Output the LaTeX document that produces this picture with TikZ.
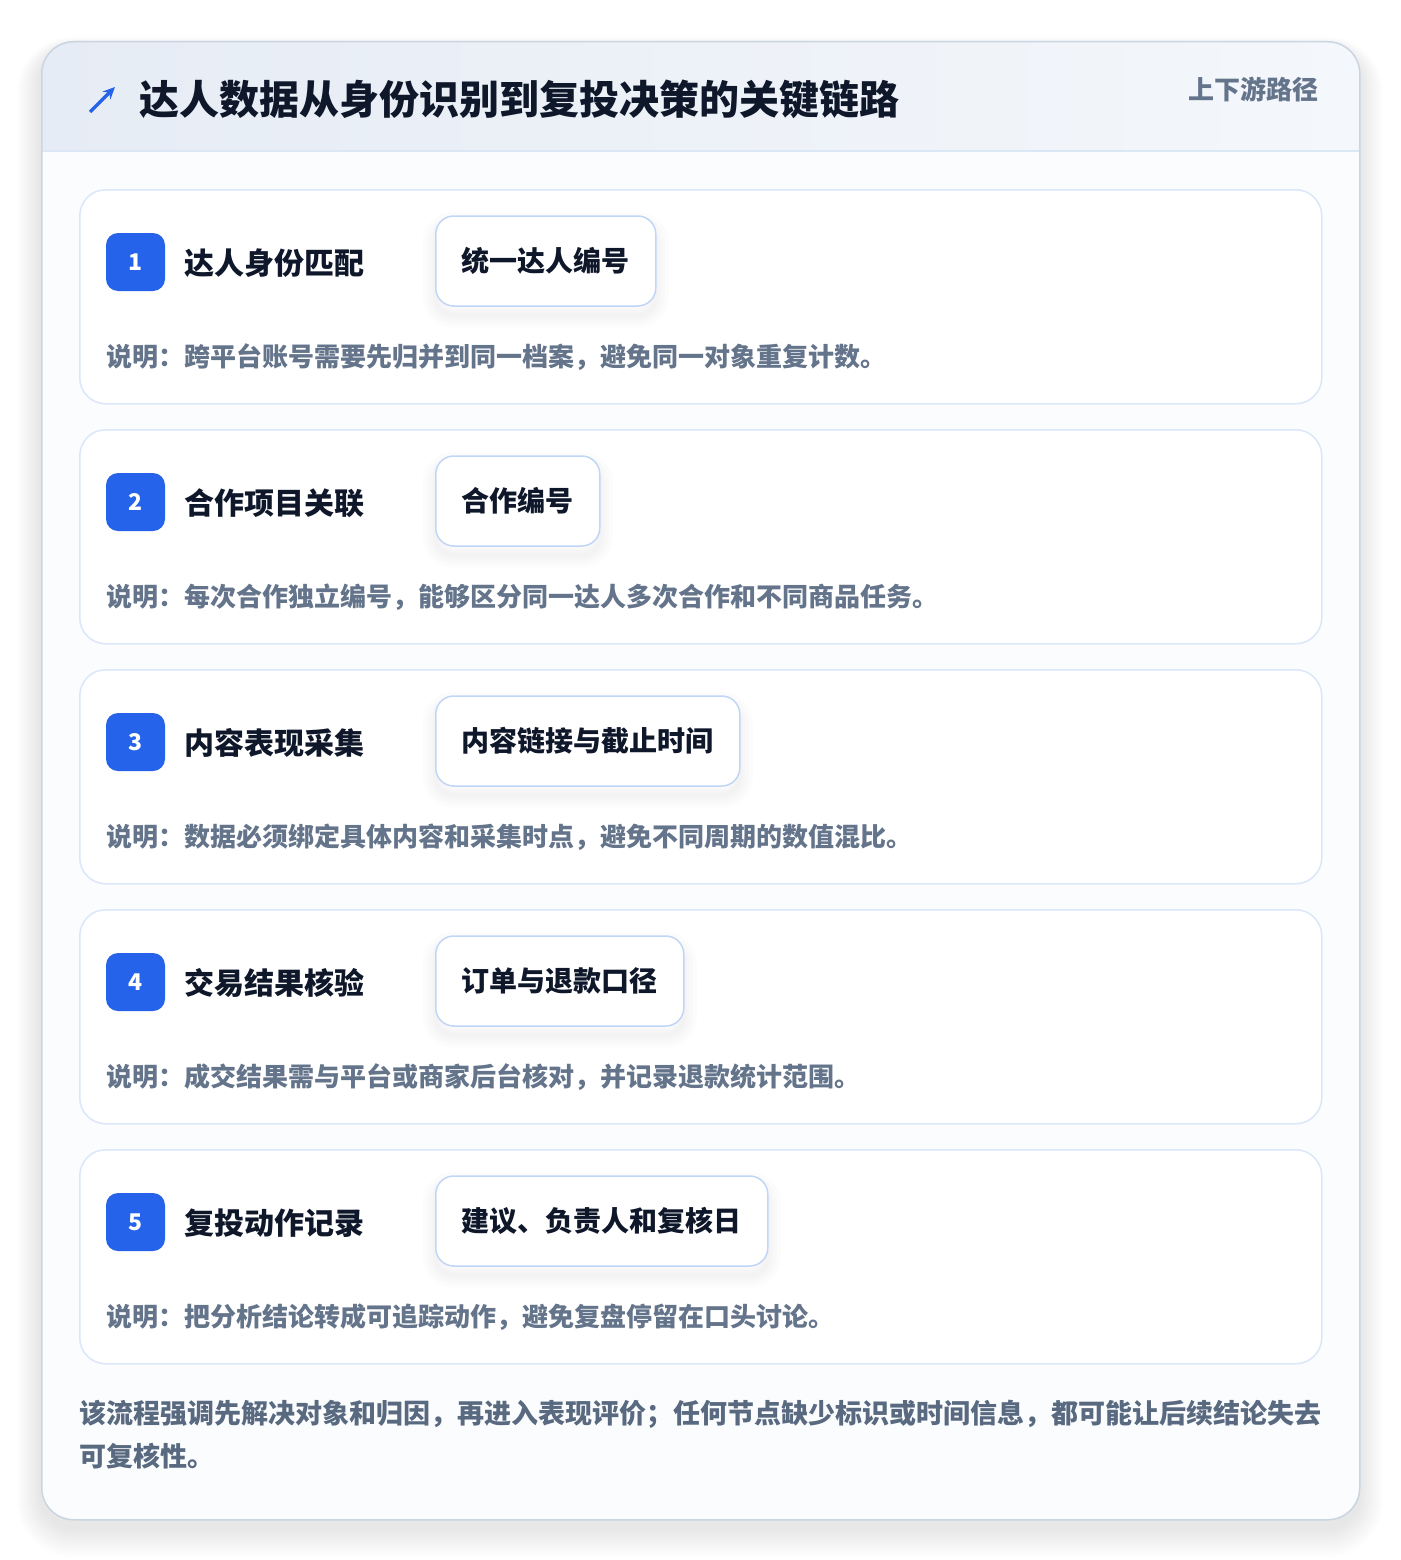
\documentclass[tikz,border=0pt]{standalone}
\usepackage{fontspec}
\setmainfont{Noto Sans CJK SC}
\usetikzlibrary{arrows.meta}
\definecolor{accent}{HTML}{2563EB}
\definecolor{ink}{HTML}{0F172A}
\definecolor{slate}{HTML}{64748B}
\definecolor{slatedk}{HTML}{586980}
\definecolor{outerb}{HTML}{CBD5E1}
\definecolor{bodyf}{HTML}{FBFCFE}
\definecolor{cardb}{HTML}{DAE7FA}
\definecolor{chipb}{HTML}{BFD6F6}
\definecolor{hdrl}{HTML}{E6ECF5}
\definecolor{hdrr}{HTML}{F4F7FB}
\definecolor{hdrline}{HTML}{DCE7F5}
\tikzset{
  frame/.style={rounded corners=32pt, minimum width=1318pt, minimum height=1478pt, inner sep=0pt, anchor=north west},
  stepcard/.style={draw=cardb, line width=1.5pt, fill=white, rounded corners=26pt, minimum width=1242pt, minimum height=214pt, inner sep=0pt, anchor=north west},
  badge/.style={fill=accent, rounded corners=12pt, minimum width=59pt, minimum height=58pt, inner sep=0pt, text=white, font=\bfseries\fontsize{23}{27}\selectfont},
  steptitle/.style={anchor=west, inner sep=0pt, text=ink, font=\bfseries\fontsize{30}{36}\selectfont},
  softshadow/.style={preaction={draw=black, opacity=0.012, line width=#1, transform canvas={yshift=-9pt}}},
  chip/.style={draw=chipb, line width=1.5pt, fill=white, rounded corners=18pt, minimum height=90pt, inner xsep=26pt, anchor=west, text=ink, font=\bfseries\fontsize{28}{34}\selectfont,
     softshadow=26pt, softshadow=18pt, softshadow=11pt, softshadow=5pt},
  desc/.style={anchor=west, inner sep=0pt, text=slate, font=\bfseries\fontsize{26}{32}\selectfont},
  note/.style={anchor=west, inner sep=0pt, text=slatedk, font=\bfseries\fontsize{27}{34}\selectfont},
}
\begin{document}
\begin{tikzpicture}[x=1pt,y=-1pt]
\useasboundingbox (0,0) rectangle (1400,1560);
\fill[white] (0,0) rectangle (1400,1560);
% soft shadow of the main card
\foreach \k in {1,...,12}{
  \pgfmathsetmacro\rr{32+2*\k}
  \fill[black, opacity=0.007, rounded corners=\rr pt] (41-2*\k,41-\k+8) rectangle (1359+2*\k,1519+2.5*\k+8);
}
\node[frame, fill=bodyf] (card) at (41,41) {};
\begin{scope}
  \clip[rounded corners=32pt] (41,41) rectangle (1359,1519);
  \shade[left color=hdrl, right color=hdrr] (41,41) rectangle (1359,151);
\end{scope}
\draw[hdrline, line width=1.5pt] (card.west |- 0,151) -- (card.east |- 0,151);
\node[frame, draw=outerb, line width=1.5pt] (cardborder) at (41,41) {};
% header
\coordinate (arrA) at (90,112);
\coordinate (arrB) at (115,87);
\draw[accent, line width=3.2pt, -{Stealth[length=12pt,width=11pt]}] (arrA) -- (arrB);
\node[anchor=west, inner sep=0pt, text=ink, font=\bfseries\fontsize{40}{48}\selectfont] (title) at (139,99) {达人数据从身份识别到复投决策的关键链路};
\node[anchor=east, inner sep=0pt, text=slate, font=\bfseries\fontsize{26}{30}\selectfont] (tag) at (1319,89) {上下游路径};
% steps
\foreach \i/\t/\c/\d in {
  1/达人身份匹配/统一达人编号/说明：跨平台账号需要先归并到同一档案，避免同一对象重复计数。,
  2/合作项目关联/合作编号/说明：每次合作独立编号，能够区分同一达人多次合作和不同商品任务。,
  3/内容表现采集/内容链接与截止时间/说明：数据必须绑定具体内容和采集时点，避免不同周期的数值混比。,
  4/交易结果核验/订单与退款口径/说明：成交结果需与平台或商家后台核对，并记录退款统计范围。,
  5/复投动作记录/建议、负责人和复核日/说明：把分析结论转成可追踪动作，避免复盘停留在口头讨论。}{
  \pgfmathsetmacro\yy{189+240*(\i-1)}
  \node[stepcard] (step\i) at (79,\yy) {};
  \node[badge] (badge\i) at (135.5,\yy+73) {\i};
  \node[steptitle] (title\i) at (184,\yy+74) {\t};
  \node[chip] (chip\i) at (435,\yy+72) {\c};
  \node[desc] (desc\i) at (106,\yy+168) {\d};
}
% footer
\node[note] (note1) at (79,1414) {该流程强调先解决对象和归因，再进入表现评价；任何节点缺少标识或时间信息，都可能让后续结论失去};
\node[note] (note2) at (79,1456) {可复核性。};
\end{tikzpicture}
\end{document}
